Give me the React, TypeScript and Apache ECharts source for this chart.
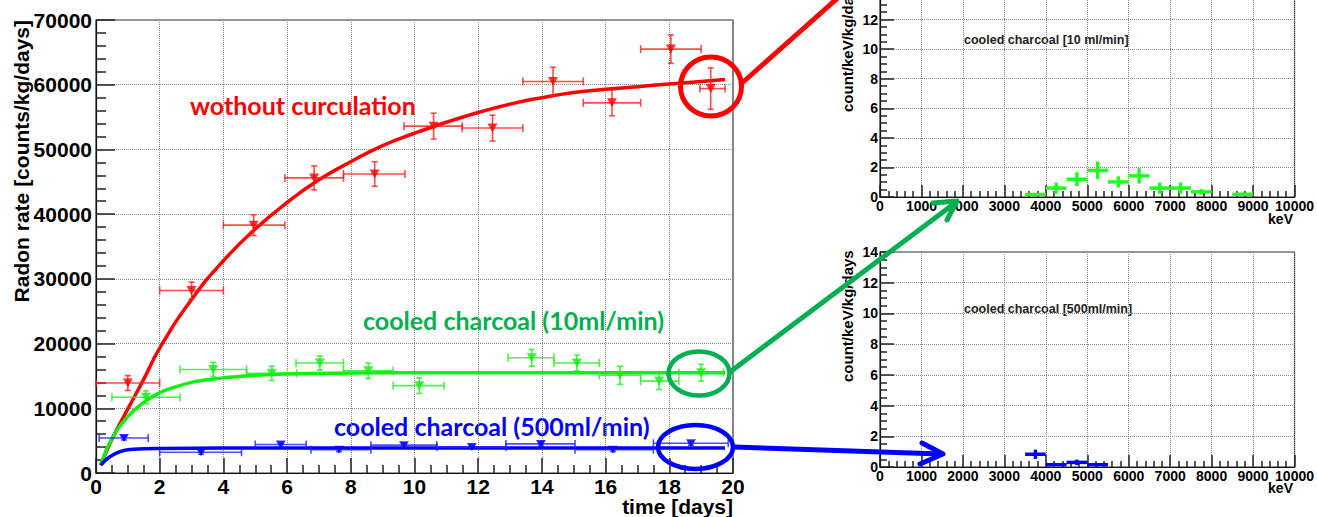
import React, { useEffect, useRef } from "react";
import * as echarts from "echarts";

// ---------- Main chart: radon rate vs time ----------
const xTickLabels = ["0", "2", "4", "6", "8", "10", "12", "14", "16", "18", "20"];

// without circulation (red)
const redT = [1.0, 3.0, 4.95, 6.85, 8.75, 10.6, 12.45, 14.35, 16.2, 18.05, 19.3];
const redY = [13900, 28200, 38300, 45600, 46200, 53600, 53300, 60500, 57200, 65500, 59400];
const redXLo = [0, 2, 4, 5.93, 7.77, 9.67, 11.5, 13.4, 15.3, 17.1, 18.96];
const redXHi = [2.0, 4, 5.93, 7.77, 9.7, 11.5, 13.4, 15.3, 17.1, 19.0, 19.75];
const redYErr = [1150, 1300, 1600, 1850, 1900, 2000, 2000, 2200, 2000, 2200, 3200];
const redFitT = [0.15, 0.5, 1, 1.5, 2, 3, 4, 5, 6, 7, 8, 9, 10, 11, 12, 13, 14, 15, 16, 17, 18, 19, 19.75];
const redFitY = [1200, 5200, 9900, 14500, 19300, 26800, 32800, 37700, 41800, 45300, 48100, 50600, 52500, 54200, 55700, 57000, 58000, 58800, 59300, 59700, 60100, 60500, 60800];

// cooled charcoal 10 ml/min (green)
const greenT = [1.57, 3.68, 5.52, 7.03, 8.55, 10.15, 13.68, 15.1, 16.45, 17.68, 19.0];
const greenY = [11700, 16000, 15400, 17000, 15800, 13500, 17800, 17000, 15100, 14200, 15500];
const greenXLo = [0.5, 2.64, 4.73, 6.28, 7.77, 9.33, 12.94, 14.38, 15.8, 17.1, 18.3];
const greenXHi = [2.64, 4.73, 6.3, 7.77, 9.33, 10.93, 14.38, 15.8, 17.1, 18.3, 19.7];
const greenYErr = [1000, 1100, 1100, 1100, 1200, 1200, 1300, 1200, 1400, 1300, 1300];
const greenFitT = [0.15, 0.5, 1, 1.5, 2, 2.5, 3, 3.5, 4, 5, 6, 8, 10, 12, 14, 16, 18, 19.75];
const greenFitY = [1300, 5300, 8700, 10900, 12400, 13300, 14000, 14400, 14700, 15100, 15300, 15450, 15500, 15500, 15500, 15500, 15500, 15500];

// cooled charcoal 500 ml/min (blue)
const blueT = [0.88, 3.3, 5.8, 7.63, 9.67, 11.8, 13.97, 16.23, 18.68];
const blueY = [5400, 3200, 4400, 3600, 4300, 4000, 4500, 3600, 4600];
const blueXLo = [0.1, 2.0, 5.0, 6.75, 8.63, 10.7, 12.87, 15.04, 17.5];
const blueXHi = [1.64, 4.57, 6.6, 8.63, 10.7, 12.87, 15.04, 17.5, 19.85];
const blueYErr = [300, 300, 300, 300, 300, 300, 300, 300, 300];
const blueFitT = [0.15, 0.3, 0.5, 0.75, 1, 1.5, 2, 4, 8, 12, 16, 19.75];
const blueFitY = [1200, 2000, 2700, 3300, 3600, 3750, 3800, 3850, 3850, 3850, 3850, 3850];

// ---------- Spectra (right panels) ----------
const topBinCenter = [3750, 4250, 4750, 5250, 5750, 6250, 6750, 7250, 7750, 8750];
const topVal = [0.17, 0.6, 1.2, 1.8, 1.02, 1.43, 0.6, 0.6, 0.35, 0.18];
const topErr = [0.1, 0.38, 0.47, 0.6, 0.38, 0.52, 0.38, 0.38, 0.2, 0.12];
const botBinCenter = [3750, 4250, 4750, 5250];
const botVal = [0.83, 0.15, 0.3, 0.15];
const botErr = [0.3, 0.08, 0.18, 0.08];
const binHalfWidth = 250;

const AX_FONT = "'Liberation Sans', Arial, Helvetica, sans-serif";
const LBL_FONT = "Lato, 'Open Sans', sans-serif";
// the chart canvas is taller than the page and shifted up, so the top panel is cut off like the reference
const OFF = 17;

function zip5(a: number[], b: number[], c: number[], d: number[], e: number[]) {
  return a.map((v, i) => [v, b[i], c[i], d[i], e[i]]);
}
function zip2(a: number[], b: number[]) {
  return a.map((v, i) => [v, b[i]]);
}
function zip3(a: number[], b: number[], c: number[]) {
  return a.map((v, i) => [v, b[i], c[i]]);
}

function errRender(color: string) {
  return (params: any, api: any) => {
    const x = api.value(0);
    const y = api.value(1);
    const xlo = api.value(2);
    const xhi = api.value(3);
    const ye = api.value(4);
    const l = api.coord([xlo, y]);
    const r = api.coord([xhi, y]);
    const t = api.coord([x, y + ye]);
    const b = api.coord([x, y - ye]);
    const st = { stroke: color, lineWidth: 1.6, opacity: 0.8 };
    const cap = 4;
    return {
      type: "group",
      children: [
        { type: "line", shape: { x1: l[0], y1: l[1], x2: r[0], y2: r[1] }, style: st },
        { type: "line", shape: { x1: t[0], y1: t[1], x2: b[0], y2: b[1] }, style: st },
        { type: "line", shape: { x1: l[0], y1: l[1] - cap, x2: l[0], y2: l[1] + cap }, style: st },
        { type: "line", shape: { x1: r[0], y1: r[1] - cap, x2: r[0], y2: r[1] + cap }, style: st },
        { type: "line", shape: { x1: t[0] - 3, y1: t[1], x2: t[0] + 3, y2: t[1] }, style: st },
        { type: "line", shape: { x1: b[0] - 3, y1: b[1], x2: b[0] + 3, y2: b[1] }, style: st },
      ],
    };
  };
}

function crossRender(color: string) {
  return (params: any, api: any) => {
    const c = api.value(0);
    const v = api.value(1);
    const e = api.value(2);
    const l = api.coord([c - binHalfWidth, v]);
    const r = api.coord([c + binHalfWidth, v]);
    const t = api.coord([c, v + e]);
    const b = api.coord([c, v - e]);
    const st = { stroke: color, lineWidth: 3.5 };
    return {
      type: "group",
      children: [
        { type: "line", shape: { x1: l[0], y1: l[1], x2: r[0], y2: r[1] }, style: st },
        { type: "line", shape: { x1: t[0], y1: t[1], x2: b[0], y2: b[1] }, style: st },
      ],
    };
  };
}

function valueAxis(o: any) {
  return {
    type: "value",
    gridIndex: o.grid,
    min: o.min,
    max: o.max,
    interval: o.interval,
    axisLine: { show: true, onZero: false, lineStyle: { color: "#111", width: 1.2 } },
    axisTick: { show: true, inside: true, length: o.tickLen, lineStyle: { color: "#222", width: 1.5 } },
    minorTick: { show: true, splitNumber: o.minor, length: o.minorLen, lineStyle: { color: "#222", width: 1.5 } },
    splitLine: { show: true, lineStyle: { type: "dotted", color: "#888", width: 1 } },
    minorSplitLine: { show: false },
    axisLabel: {
      show: true,
      margin: o.margin,
      color: "#000",
      fontFamily: AX_FONT,
      fontWeight: "bold",
      fontSize: o.fontSize,
      formatter: o.formatter || ((v: number) => String(v)),
    },
  };
}

export default function App() {
  const ref = useRef<HTMLDivElement>(null);
  useEffect(() => {
    document.body.style.margin = "0";
    const chart = echarts.init(ref.current!, null, { renderer: "svg" });

    const text = (x: number, y: number, t: string, extra: any) => ({
      type: "text",
      x,
      y: y + OFF,
      ...extra,
      style: { text: t, ...extra.style },
    });
    const Y = (v: number) => v + OFF;

    const option: any = {
      animation: false,
      backgroundColor: "#fff",
      grid: [
        { left: 96, top: Y(20), width: 637, height: 453, show: true, borderColor: "#333", borderWidth: 1.2, backgroundColor: "transparent" },
        { left: 880, top: Y(-17), width: 416, height: 214, show: true, borderColor: "#333", borderWidth: 1.2, backgroundColor: "transparent" },
        { left: 880, top: Y(252), width: 416, height: 215, show: true, borderColor: "#333", borderWidth: 1.2, backgroundColor: "transparent" },
      ],
      xAxis: [
        valueAxis({ grid: 0, min: 0, max: 20, interval: 2, tickLen: 15, minor: 4, minorLen: 8, margin: 3, fontSize: 21,
          formatter: (v: number) => xTickLabels[Math.round(v / 2)] ?? String(v) }),
        valueAxis({ grid: 1, min: 0, max: 10000, interval: 1000, tickLen: 12, minor: 5, minorLen: 6, margin: 2, fontSize: 14 }),
        valueAxis({ grid: 2, min: 0, max: 10000, interval: 1000, tickLen: 12, minor: 5, minorLen: 6, margin: 2, fontSize: 14 }),
      ],
      yAxis: [
        valueAxis({ grid: 0, min: 0, max: 70000, interval: 10000, tickLen: 19, minor: 5, minorLen: 10, margin: 4, fontSize: 21 }),
        valueAxis({ grid: 1, min: 0, max: 14, interval: 2, tickLen: 14, minor: 4, minorLen: 7, margin: 2, fontSize: 14 }),
        valueAxis({ grid: 2, min: 0, max: 14, interval: 2, tickLen: 14, minor: 4, minorLen: 7, margin: 2, fontSize: 14 }),
      ],
      series: [
        // fits
        { type: "line", name: "red fit", xAxisIndex: 0, yAxisIndex: 0, data: zip2(redFitT, redFitY), smooth: true, showSymbol: false, lineStyle: { color: "#ff0000", width: 3.5 }, z: 3 },
        { type: "line", name: "green fit", xAxisIndex: 0, yAxisIndex: 0, data: zip2(greenFitT, greenFitY), smooth: true, showSymbol: false, lineStyle: { color: "#11ee11", width: 3.5 }, z: 3 },
        { type: "line", name: "blue fit", xAxisIndex: 0, yAxisIndex: 0, data: zip2(blueFitT, blueFitY), smooth: true, showSymbol: false, lineStyle: { color: "#0000ff", width: 3.5 }, z: 3 },
        // error bars
        { type: "custom", name: "red err", xAxisIndex: 0, yAxisIndex: 0, data: zip5(redT, redY, redXLo, redXHi, redYErr), renderItem: errRender("#ff2020"), encode: { x: [0, 2, 3], y: 1 }, z: 4 },
        { type: "custom", name: "green err", xAxisIndex: 0, yAxisIndex: 0, data: zip5(greenT, greenY, greenXLo, greenXHi, greenYErr), renderItem: errRender("#22ee22"), encode: { x: [0, 2, 3], y: 1 }, z: 4 },
        { type: "custom", name: "blue err", xAxisIndex: 0, yAxisIndex: 0, data: zip5(blueT, blueY, blueXLo, blueXHi, blueYErr), renderItem: errRender("#2020ff"), encode: { x: [0, 2, 3], y: 1 }, z: 4 },
        // markers
        { type: "scatter", name: "red pts", xAxisIndex: 0, yAxisIndex: 0, data: zip2(redT, redY), symbol: "triangle", symbolRotate: 180, symbolSize: [10, 9], itemStyle: { color: "#ff0000" }, z: 5 },
        { type: "scatter", name: "green pts", xAxisIndex: 0, yAxisIndex: 0, data: zip2(greenT, greenY), symbol: "triangle", symbolRotate: 180, symbolSize: [10, 9], itemStyle: { color: "#11ee11" }, z: 5 },
        { type: "scatter", name: "blue pts", xAxisIndex: 0, yAxisIndex: 0, data: zip2(blueT, blueY), symbol: "triangle", symbolRotate: 180, symbolSize: [10, 8], itemStyle: { color: "#0000ff" }, z: 5 },
        // spectra
        { type: "custom", name: "spec 10", xAxisIndex: 1, yAxisIndex: 1, data: zip3(topBinCenter, topVal, topErr), renderItem: crossRender("#22ff22"), encode: { x: 0, y: 1 }, z: 4 },
        { type: "custom", name: "spec 500", xAxisIndex: 2, yAxisIndex: 2, data: zip3(botBinCenter, botVal, botErr), renderItem: crossRender("#0000ff"), encode: { x: 0, y: 1 }, z: 4 },
      ],
      graphic: [
        // axis titles
        text(21, 20, "Radon rate [counts/kg/days]", { rotation: Math.PI / 2, style: { align: "right", verticalAlign: "middle", font: `bold 21px ${AX_FONT}`, fill: "#000" } }),
        text(733, 506, "time [days]", { style: { align: "right", verticalAlign: "middle", font: `bold 21px ${AX_FONT}`, fill: "#000" } }),
        text(847, 112, "count/keV/kg/days", { rotation: Math.PI / 2, style: { align: "left", verticalAlign: "middle", font: `bold 15px ${AX_FONT}`, fill: "#000" } }),
        text(847, 382, "count/keV/kg/days", { rotation: Math.PI / 2, style: { align: "left", verticalAlign: "middle", font: `bold 15px ${AX_FONT}`, fill: "#000" } }),
        text(1293, 219, "keV", { style: { align: "right", verticalAlign: "middle", font: `bold 14px ${AX_FONT}`, fill: "#000" } }),
        text(1293, 488, "keV", { style: { align: "right", verticalAlign: "middle", font: `bold 14px ${AX_FONT}`, fill: "#000" } }),
        text(964, 40, "cooled charcoal [10 ml/min]", { style: { align: "left", verticalAlign: "middle", font: `bold 12.5px ${AX_FONT}`, fill: "#222" } }),
        text(964, 309, "cooled charcoal [500ml/min]", { style: { align: "left", verticalAlign: "middle", font: `bold 12.5px ${AX_FONT}`, fill: "#222" } }),
        // annotations
        text(190, 105, "wothout curculation", { style: { align: "left", verticalAlign: "middle", font: `bold 25px ${LBL_FONT}`, fill: "#ff0000" } }),
        text(363, 320, "cooled charcoal (10ml/min)", { style: { align: "left", verticalAlign: "middle", font: `bold 25px ${LBL_FONT}`, fill: "#00b050" } }),
        text(334, 426, "cooled charcoal (500ml/min)", { style: { align: "left", verticalAlign: "middle", font: `bold 25px ${LBL_FONT}`, fill: "#0000ff" } }),
        // circles and arrows
        { type: "ellipse", shape: { cx: 711, cy: Y(86.5), rx: 30.5, ry: 29.5 }, style: { fill: "none", stroke: "#ff0000", lineWidth: 5 }, z: 100 },
        { type: "line", shape: { x1: 742, y1: Y(83), x2: 840, y2: Y(-4) }, style: { stroke: "#ff0000", lineWidth: 5, lineCap: "round" }, z: 100 },
        { type: "ellipse", shape: { cx: 699, cy: Y(373.5), rx: 30.5, ry: 22 }, style: { fill: "none", stroke: "#00b050", lineWidth: 4.5 }, z: 100 },
        { type: "line", shape: { x1: 730, y1: Y(372), x2: 955, y2: Y(203) }, style: { stroke: "#00b050", lineWidth: 5, lineCap: "round" }, z: 100 },
        { type: "polyline", shape: { points: [[933, Y(203)], [957, Y(201)], [947, Y(220)]] }, style: { fill: "none", stroke: "#00b050", lineWidth: 5, lineCap: "round", lineJoin: "round" }, z: 100 },
        { type: "ellipse", shape: { cx: 695.5, cy: Y(447), rx: 37.5, ry: 22 }, style: { fill: "none", stroke: "#0000ff", lineWidth: 4.5 }, z: 100 },
        { type: "line", shape: { x1: 734, y1: Y(447), x2: 941, y2: Y(454) }, style: { stroke: "#0000ff", lineWidth: 5, lineCap: "round" }, z: 100 },
        { type: "polyline", shape: { points: [[922, Y(443)], [943, Y(454)], [920, Y(464)]] }, style: { fill: "none", stroke: "#0000ff", lineWidth: 5, lineCap: "round", lineJoin: "round" }, z: 100 },
      ],
    };
    chart.setOption(option);
    return () => chart.dispose();
  }, []);
  return (
    <div style={{ width: 1317, height: 517, overflow: "hidden", position: "relative" }}>
      <div ref={ref} style={{ position: "absolute", left: 0, top: -OFF, width: 1317, height: 517 + OFF }} />
    </div>
  );
}
